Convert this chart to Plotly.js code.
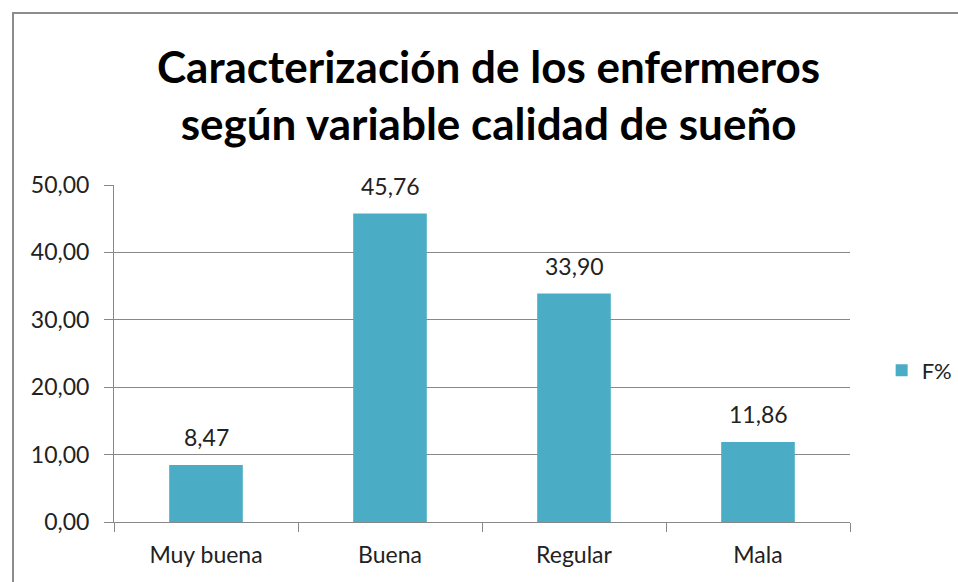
<!DOCTYPE html>
<html><head><meta charset="utf-8">
<script src="https://cdn.plot.ly/plotly-3.0.1.min.js"></script>
<style>
html,body{margin:0;padding:0;background:#fff;}
#frame{position:absolute;left:12px;top:12px;width:1000px;height:700px;border:2px solid #8c8c8c;box-sizing:border-box;}
#chart{position:absolute;left:0;top:0;width:958px;height:582px;}
</style></head><body>
<div id="frame"></div>
<div id="chart"></div>
<script>
const categories = ["Muy buena", "Buena", "Regular", "Mala"];
const values = [8.47, 45.76, 33.90, 11.86];
const seriesName = "F%";
const yTicks = [0, 10, 20, 30, 40, 50];

const FONT = "Lato, sans-serif";

const trace = {
  type: "bar",
  x: categories,
  y: values,
  name: seriesName,
  marker: {color: "#4BACC6"},
  showlegend: true,
  hoverinfo: "none"
};

const labels = categories.map((c, i) => ({
  x: c, y: values[i], xref: "x", yref: "y",
  text: values[i].toFixed(2).replace(".", ","),
  showarrow: false, yanchor: "bottom", yshift: 12,
  font: {family: FONT, size: 23, color: "#222"}
}));

const layout = {
  width: 958, height: 582,
  paper_bgcolor: "rgba(0,0,0,0)", plot_bgcolor: "rgba(0,0,0,0)",
  separators: ",.",
  margin: {l: 114, r: 108, t: 185, b: 60, autoexpand: false},
  title: {
    text: "<b>Caracterización de los enfermeros<br>según variable calidad de sueño</b>",
    font: {family: FONT, size: 44, color: "#000"},
    x: 0.51, xanchor: "center", xref: "container",
    y: 0.858, yanchor: "middle", yref: "container"
  },
  bargap: 0.6,
  annotations: labels,
  xaxis: {
    showline: true, linecolor: "#888", linewidth: 1,
    ticks: "outside", tickson: "boundaries", ticklen: 9, tickcolor: "#888",
    ticklabelstandoff: 12,
    tickfont: {family: FONT, size: 23, color: "#222"},
    showgrid: false
  },
  yaxis: {
    range: [0, 50], tickvals: yTicks, tickformat: ".2f",
    showline: true, linecolor: "#888", linewidth: 1,
    ticks: "outside", ticklen: 9, tickcolor: "#888",
    ticklabelstandoff: 10,
    showgrid: true, gridcolor: "#888", gridwidth: 1,
    zeroline: false,
    tickfont: {family: FONT, size: 23, color: "#222"}
  },
  legend: {
    x: 1.043, xanchor: "left", y: 0.45, yanchor: "middle",
    font: {family: FONT, size: 22, color: "#222"},
    itemwidth: 30, bgcolor: "rgba(0,0,0,0)"
  }
};
Plotly.newPlot("chart", [trace], layout, {displayModeBar: false});
</script>
</body></html>
